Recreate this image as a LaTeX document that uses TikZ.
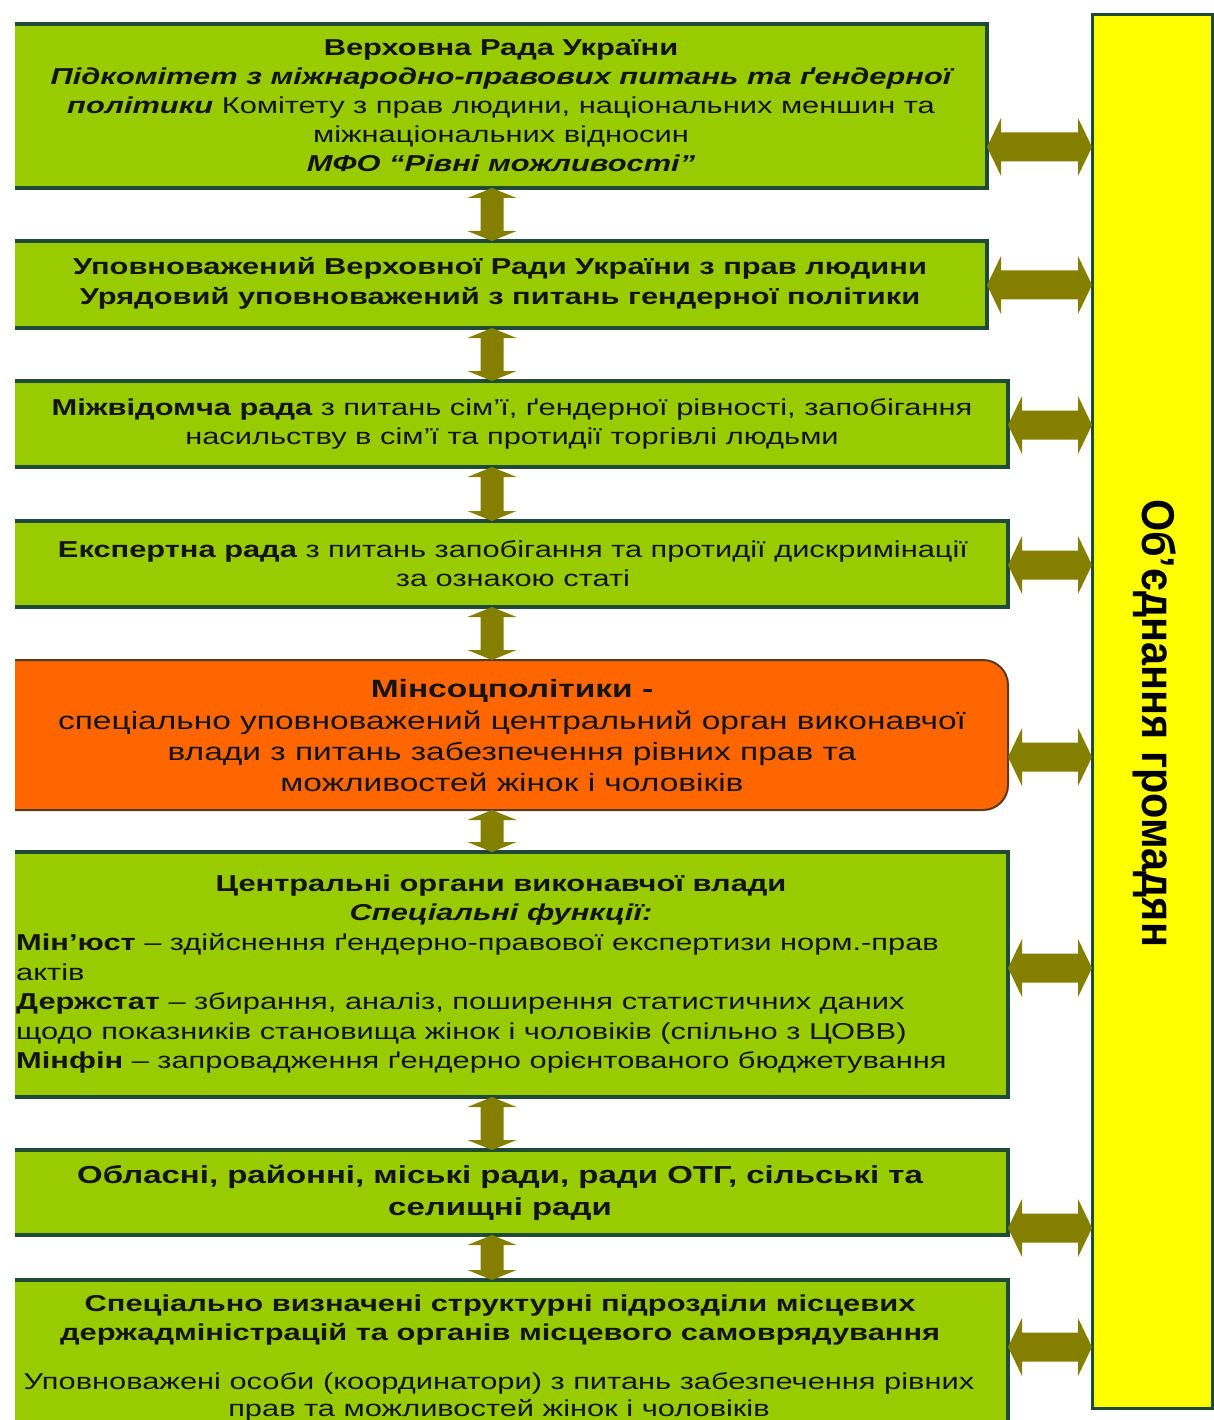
\documentclass[tikz,border=0pt]{standalone}
\usepackage{fontspec}
\setmainfont{Liberation Sans}
\newfontfamily\wf[FakeStretch=1.34]{Liberation Sans}
\newfontfamily\vf[FakeStretch=0.9]{Liberation Sans}
\usetikzlibrary{calc}
\definecolor{boxgreen}{HTML}{99CC00}
\definecolor{boxorange}{HTML}{FF6600}
\definecolor{baryellow}{HTML}{FFFF00}
\definecolor{arrowolive}{HTML}{857F00}
\definecolor{edge}{HTML}{1F4A35}
\definecolor{oedge}{HTML}{5A3A1E}
\definecolor{ink}{HTML}{141414}
\begin{document}
\begin{tikzpicture}[x=1pt,y=-1pt,
  gbox/.style={draw=edge, line width=3.5pt, fill=boxgreen, inner sep=0pt, outer sep=0pt, anchor=north west},
  obox/.style={draw=oedge, line width=2pt, fill=boxorange, rounded corners=25pt, inner sep=0pt, outer sep=0pt, anchor=north west},
  ybox/.style={draw=edge, line width=3pt, fill=baryellow, inner sep=0pt, outer sep=0pt, anchor=north west},
  txt/.style={text=ink, align=center, inner sep=0pt, font=\wf\fontsize{23}{29}\selectfont},
  txtl/.style={text=ink, align=left, inner sep=0pt, anchor=west, font=\wf\fontsize{23}{29.4}\selectfont},
  vdarr/.style={fill=arrowolive, to path={let \p1=(\tikztostart), \p2=(\tikztotarget) in
    (\x1,\y1) -- ++(24.5pt,-10pt) -- ++(-13pt,0pt) -- (\x1+11.5pt,\y2+10pt) -- ++(13pt,0pt)
    -- (\x1,\y2) -- ++(-24.5pt,10pt) -- ++(13pt,0pt) -- (\x1-11.5pt,\y1-10pt) -- ++(-13pt,0pt) -- cycle}},
  hdarr/.style={fill=arrowolive, to path={let \p1=(\tikztostart), \p2=(\tikztotarget) in
    (\x1,\y1) -- ++(14pt,29pt) -- ++(0pt,-14.5pt) -- (\x2-14pt,\y1+14.5pt) -- ++(0pt,14.5pt)
    -- (\x2,\y1) -- ++(-14pt,-29pt) -- ++(0pt,14.5pt) -- (\x1+14pt,\y1-14.5pt) -- ++(0pt,-14.5pt) -- cycle}}
]
\useasboundingbox[fill=white] (0,0) rectangle (1214,1420);
\clip (15,-10) rectangle (1214,1430);

% boxes
\node[gbox, minimum width=1007pt, minimum height=164pt] (b1) at (-20,24) {};
\node[gbox, minimum width=1007pt, minimum height=87pt] (b2) at (-20,241) {};
\node[gbox, minimum width=1028pt, minimum height=86pt] (b3) at (-20,381) {};
\node[gbox, minimum width=1028pt, minimum height=86pt] (b4) at (-20,521) {};
\node[obox, minimum width=1048pt, minimum height=150pt] (b5) at (-40,660) {};
\node[gbox, minimum width=1028pt, minimum height=245pt] (b6) at (-20,852) {};
\node[gbox, minimum width=1028pt, minimum height=85pt] (b7) at (-20,1150) {};
\node[gbox, minimum width=1028pt, minimum height=170pt] (b8) at (-20,1280) {};
\node[ybox, minimum width=120pt, minimum height=1393pt] (bar) at (1092,15) {};

% texts
\node[txt] (t1) at (501,106) {{\bfseries Верховна Рада України}\\
{\bfseries\itshape Підкомітет з міжнародно-правових питань та ґендерної}\\
{\bfseries\itshape політики} Комітету з прав людини, національних меншин та\\
міжнаціональних відносин\\
{\bfseries\itshape МФО “Рівні можливості”}};
\node[txt, font=\wf\bfseries\fontsize{23}{30}\selectfont] (t2) at (500,283) {Уповноважений Верховної Ради України з прав людини\\
Урядовий уповноважений з питань гендерної політики};
\node[txt] (t3) at (512,424) {{\bfseries Міжвідомча рада} з питань сім’ї, ґендерної рівності, запобігання\\
насильству в сім’ї та протидії торгівлі людьми};
\node[txt] (t4) at (513,564) {{\bfseries Експертна рада} з питань запобігання та протидії дискримінації\\
за ознакою статі};
\node[txt, font=\wf\fontsize{25}{31.3}\selectfont] (t5) at (512,736) {{\bfseries Мінсоцполітики -}\\
спеціально уповноважений центральний орган виконавчої\\
влади з питань забезпечення рівних прав та\\
можливостей жінок і чоловіків};
\node[txt] (t6a) at (501,900) {{\bfseries Центральні органи виконавчої влади}\\
{\bfseries\itshape Спеціальні функції:}};
\node[txtl] (t6b) at (16,1003.5) {{\bfseries Мін’юст} – здійснення ґендерно-правової експертизи норм.-прав\\
актів\\
{\bfseries Держстат} – збирання, аналіз, поширення статистичних даних\\
щодо показників становища жінок і чоловіків (спільно з ЦОВВ)\\
{\bfseries Мінфін} – запровадження ґендерно орієнтованого бюджетування};
\node[txt, font=\wf\bfseries\fontsize{24.6}{32}\selectfont] (t7) at (500,1193) {Обласні, районні, міські ради, ради ОТГ, сільські та\\
селищні ради};
\node[txt, font=\wf\bfseries\fontsize{23}{29}\selectfont] (t8a) at (500,1320.5) {Спеціально визначені структурні підрозділи місцевих\\
держадміністрацій та органів місцевого самоврядування};
\node[txt, font=\wf\fontsize{23}{27}\selectfont] (t8b) at (499,1396.5) {Уповноважені особи (координатори) з питань забезпечення рівних\\
прав та можливостей жінок і чоловіків};
\node[text=black, inner sep=0pt, rotate=-90, font=\vf\bfseries\fontsize{46}{50}\selectfont] (vt) at (1155,723) {Об’єднання громадян};

% connector reference coordinates
\coordinate (ax) at (492,0);
\coordinate (h1) at (0,147);
\coordinate (h2) at (0,285);
\coordinate (h3) at (0,425);
\coordinate (h4) at (0,565);
\coordinate (h5) at (0,757);
\coordinate (h6) at (0,968);
\coordinate (h7) at (0,1228);
\coordinate (h8) at (0,1347);

% vertical connectors
\path[vdarr] (b1.south -| ax) to (b2.north -| ax);
\path[vdarr] (b2.south -| ax) to (b3.north -| ax);
\path[vdarr] (b3.south -| ax) to (b4.north -| ax);
\path[vdarr] (b4.south -| ax) to (b5.north -| ax);
\path[vdarr] (b5.south -| ax) to (b6.north -| ax);
\path[vdarr] (b6.south -| ax) to (b7.north -| ax);
\path[vdarr] (b7.south -| ax) to (b8.north -| ax);

% horizontal connectors
\path[hdarr] (b1.east |- h1) to (bar.west |- h1);
\path[hdarr] (b2.east |- h2) to (bar.west |- h2);
\path[hdarr] (b3.east |- h3) to (bar.west |- h3);
\path[hdarr] (b4.east |- h4) to (bar.west |- h4);
\path[hdarr] (b5.east |- h5) to (bar.west |- h5);
\path[hdarr] (b6.east |- h6) to (bar.west |- h6);
\path[hdarr] (b7.east |- h7) to (bar.west |- h7);
\path[hdarr] (b8.east |- h8) to (bar.west |- h8);
\end{tikzpicture}
\end{document}
